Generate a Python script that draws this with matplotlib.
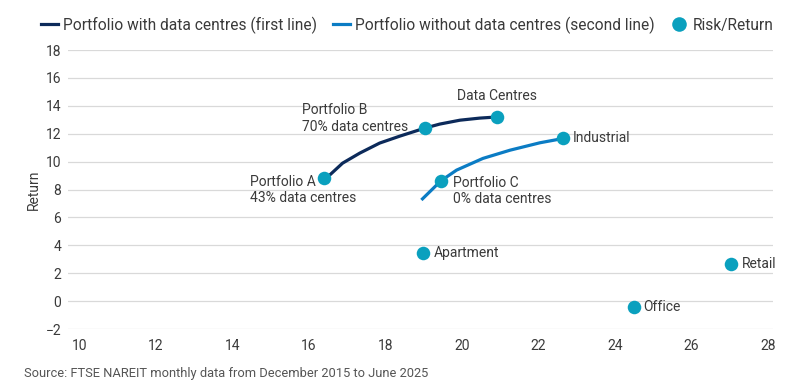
import matplotlib.pyplot as plt
from matplotlib.lines import Line2D

# Risk (x) / Return (y)
with_dc_risk = [16.39, 16.54, 16.88, 17.33, 17.85, 18.38, 19.03, 19.42, 19.95, 20.47, 20.92]
with_dc_return = [8.82, 9.03, 9.89, 10.61, 11.33, 11.83, 12.40, 12.69, 12.97, 13.12, 13.2]

without_dc_risk = [18.94, 19.16, 19.45, 19.86, 20.55, 21.26, 22.04, 22.65]
without_dc_return = [7.25, 7.84, 8.62, 9.39, 10.23, 10.82, 11.35, 11.66]

point_names = ["Data Centres", "Portfolio B\n70% data centres", "Portfolio A\n43% data centres",
               "Industrial", "Portfolio C\n0% data centres", "Apartment", "Retail", "Office"]
point_risk = [20.92, 19.03, 16.39, 22.65, 19.45, 18.98, 27.03, 24.51]
point_return = [13.2, 12.4, 8.8, 11.66, 8.62, 3.42, 2.65, -0.4]

x_ticks = [10, 12, 14, 16, 18, 20, 22, 24, 26, 28]
y_ticks = [-2, 0, 2, 4, 6, 8, 10, 12, 14, 16, 18]

dark_navy = '#0c2a5a'
mid_blue = '#0b7cc4'
teal = '#0aa0be'
text_col = '#3a3a3a'

plt.rcParams['font.family'] = ['Roboto', 'DejaVu Sans']

fig = plt.figure(figsize=(8.05, 3.92), dpi=100)
ax = fig.add_axes([0.0845, 0.1607, 0.8755, 0.7117])

ax.plot(with_dc_risk, with_dc_return, color=dark_navy, lw=2.3, solid_capstyle='butt', zorder=2)
ax.plot(without_dc_risk, without_dc_return, color=mid_blue, lw=2.3, solid_capstyle='butt', zorder=2)
ax.scatter(point_risk, point_return, s=95, color=teal, zorder=3, linewidths=0)

# label offsets in points (dx, dy, ha)
offsets = {
    "Data Centres": (0, 15, 'center'),
    "Portfolio B\n70% data centres": (-12, 7, 'right'),
    "Portfolio A\n43% data centres": (-53, -8.5, 'left'),
    "Industrial": (6.5, 0, 'left'),
    "Portfolio C\n0% data centres": (8.5, -7.5, 'left'),
    "Apartment": (8, 0, 'left'),
    "Retail": (8, 0, 'left'),
    "Office": (6.5, 0, 'left'),
}
for name, x, y in zip(point_names, point_risk, point_return):
    dx, dy, ha = offsets[name]
    ax.annotate(name, (x, y), xytext=(dx, dy), textcoords='offset points',
                ha=ha, va='center', multialignment='left', fontsize=10,
                color=text_col, linespacing=1.2)

ax.set_xlim(9.7, 28.13)
ax.set_ylim(-2, 18)
ax.set_xticks(x_ticks)
ax.set_yticks(y_ticks)
ax.tick_params(length=0, labelsize=10, labelcolor=text_col)
ax.tick_params(axis='y', pad=5)
ax.tick_params(axis='x', pad=7)
ax.grid(axis='y', color='#d9d9d9', lw=0.9)
ax.set_axisbelow(True)
for s in ax.spines.values():
    s.set_visible(False)
ax.set_ylabel('Return', fontsize=10, color=text_col, labelpad=3)

handles = [
    Line2D([], [], color=dark_navy, lw=2.3),
    Line2D([], [], color=mid_blue, lw=2.3),
    Line2D([], [], color=teal, marker='o', ls='none', markersize=10.5, markeredgewidth=0),
]
labels = ['Portfolio with data centres (first line)',
          'Portfolio without data centres (second line)', 'Risk/Return']
fig.legend(handles, labels, loc='center right', bbox_to_anchor=(0.979, 0.936), ncol=3,
           frameon=False, handlelength=1.1, handletextpad=0.35, columnspacing=1.0,
           prop={'size': 11.2}, labelcolor=text_col)

fig.text(0.03, 0.048, 'Source: FTSE NAREIT monthly data from December 2015 to June 2025',
         fontsize=9.3, color='#555555', va='center')

fig.savefig('out.png', dpi=100)
